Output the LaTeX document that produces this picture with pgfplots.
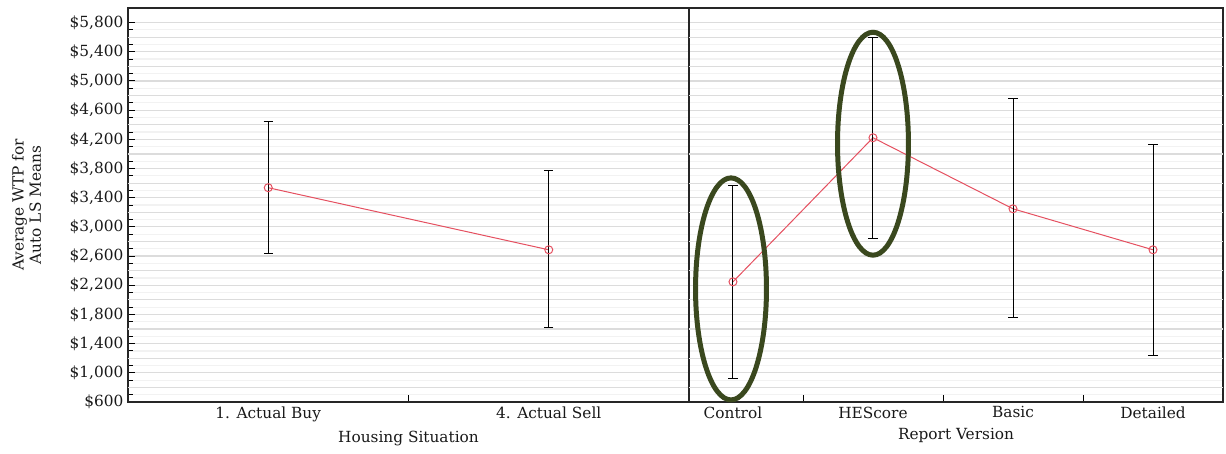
\documentclass[border=0pt]{standalone}
\usepackage{pgfplots}
\pgfplotsset{compat=1.18}
\usepackage{pgfplotstable}
\usepackage{fontspec}
\setmainfont{DejaVu Serif}
\definecolor{meanred}{RGB}{229,80,96}
\definecolor{ellgreen}{RGB}{58,72,30}
\definecolor{gridA}{RGB}{220,220,220}
\definecolor{gridB}{RGB}{242,242,242}

\pgfplotstableread{
x mean ep em
0 3537 905 906
1 2686 1084 1071
}\housing
\pgfplotstableread{
x mean ep em
0 2247 1321 1331
1 4222 1377 1381
2 3248 1505 1491
3 2686 1444 1455
}\report

\pgfplotsset{
 panel/.style={
  scale only axis, height=295.5pt, ymin=600, ymax=6000,
  axis line style={black!85, line width=0.8pt},
  tick align=inside,
  major tick length=5.5pt, minor tick length=3.5pt,
  ytick={600,1000,...,5800}, minor y tick num=3,
  ymajorgrids, yminorgrids,
  major grid style={gridA, line width=0.9pt},
  minor grid style={gridB, line width=0.9pt},
  extra y ticks={800,1200,...,5600},
  extra y tick labels={},
  extra y tick style={grid=major, major grid style={gridA, line width=0.9pt}, tick style={draw=none}},
  tick style={black, line width=0.7pt},
  ticklabel style={font=\fontsize{11.5}{13}\selectfont, text=black!90},
  label style={font=\fontsize{11.5}{13}\selectfont, text=black!90},
  xtick pos=bottom, ytick pos=left,
  xticklabels={},
  extra x tick style={tick style={draw=none}},
 },
 meanplot/.style={meanred, line width=0.75pt, mark=o, mark size=3pt,
  mark options={meanred, line width=0.75pt},
  error bars/.cd, y dir=both, y explicit,
  error bar style={black, line width=0.75pt},
  error mark options={rotate=90, black, mark size=3.4pt, line width=0.75pt}},
}

\begin{document}
\begin{tikzpicture}
\useasboundingbox (-96pt,-38.25pt) rectangle (823.5pt,301.5pt);
\begin{axis}[panel,
  at={(0pt,0pt)}, anchor=south west,
  width=420.75pt,
  xmin=-0.5, xmax=1.5,
  xtick={0.5},
  extra x ticks={0,1},
  extra x tick labels={1. Actual Buy,4. Actual Sell},
  yticklabel={\$\pgfmathprintnumber[fixed,precision=0,1000 sep={,},assume math mode=true]{\tick}},
  xlabel={Housing Situation},
  ylabel={Average WTP for\\Auto LS Means},
  ylabel style={align=center, at={(axis description cs:-0.181,0.5)}, anchor=center},
]
\addplot[meanplot] table[x=x, y=mean, y error plus=ep, y error minus=em]{\housing};
\end{axis}
\begin{axis}[panel,
  at={(420.75pt,0pt)}, anchor=south west,
  width=400.5pt,
  xmin=-0.314, xmax=3.5,
  xtick={0.5,1.5,2.5},
  extra x ticks={0,1,2,3},
  extra x tick labels={Control,HEScore,Basic,Detailed},
  yticklabels={},
  ytick style={draw=none},
  minor tick style={draw=none},
  xlabel={Report Version},
  clip=false,
]
\addplot[meanplot] table[x=x, y=mean, y error plus=ep, y error minus=em]{\report};
\draw[ellgreen, line width=3.75pt] (axis cs:-0.014,2150) ellipse [x radius=26.6pt, y radius=83.25pt];
\draw[ellgreen, line width=3.75pt] (axis cs:1,4140) ellipse [x radius=26.6pt, y radius=83.6pt];
\end{axis}
\end{tikzpicture}
\end{document}
